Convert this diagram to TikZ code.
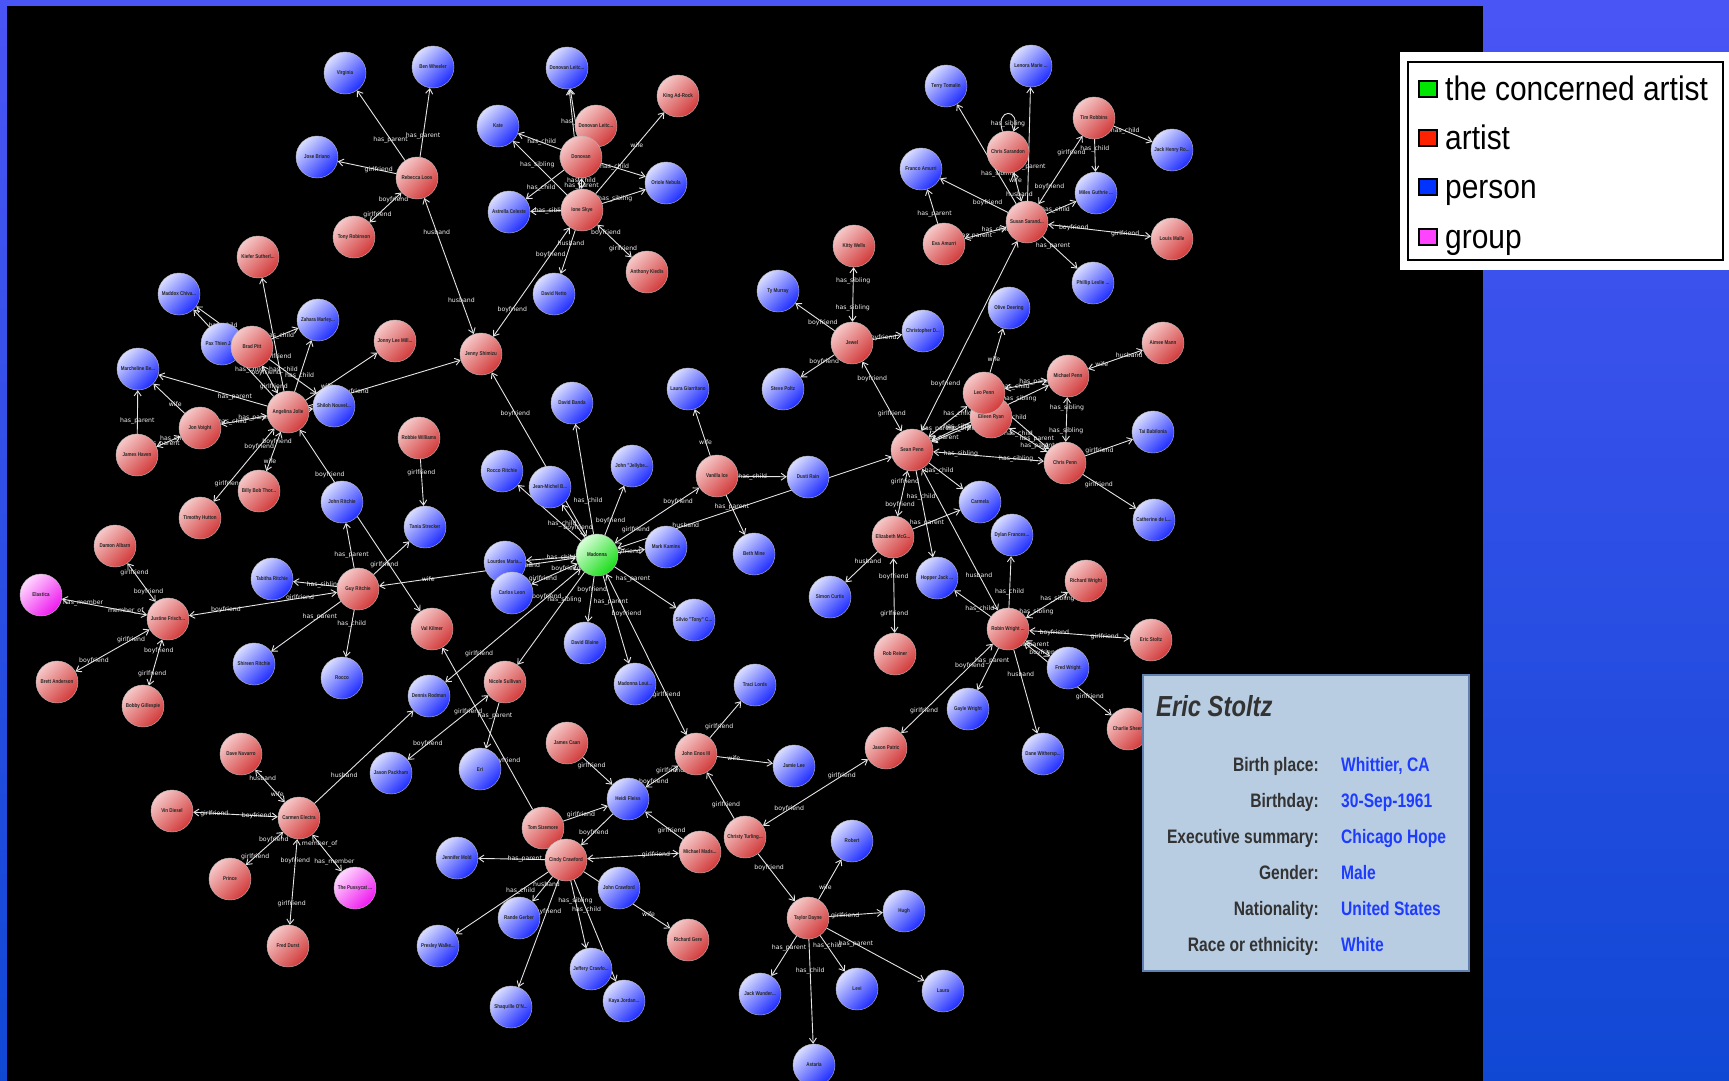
\documentclass[tikz,border=0pt]{standalone}
\usepackage{fontspec}
\setmainfont{Liberation Sans}
\newfontfamily\dejavu{DejaVu Sans}
\usepackage{graphicx}
\usetikzlibrary{arrows.meta}
\pgfdeclarelayer{bgl}
\pgfdeclarelayer{edl}
\pgfsetlayers{bgl,edl,main}
\definecolor{bgtop}{HTML}{4A55F5}
\definecolor{bgbot}{HTML}{1048D4}
\definecolor{rL}{HTML}{F6C8C8}\definecolor{rD}{HTML}{D23A3A}
\definecolor{bL}{HTML}{DADEFF}\definecolor{bD}{HTML}{1E2CFF}
\definecolor{gL}{HTML}{D8FFD8}\definecolor{gD}{HTML}{18DC18}
\definecolor{mL}{HTML}{FFD8FF}\definecolor{mD}{HTML}{EE18EE}
\definecolor{infofill}{HTML}{B8CCE2}
\definecolor{infoline}{HTML}{6080B0}
\definecolor{infoval}{HTML}{1E3CFF}
\definecolor{infolab}{HTML}{333333}
\definecolor{edgec}{HTML}{E4E4E4}
\tikzset{
  anode/.style={circle, minimum size=42pt, inner sep=0pt, draw=gray!55, line width=0.4pt,
    font=\fontsize{5.5}{6}\bfseries\selectfont, text=black!85},
  rn/.style={top color=rL, bottom color=rD, shading angle=45},
  bn/.style={top color=bL, bottom color=bD, shading angle=45},
  gn/.style={top color=gL, bottom color=gD, shading angle=45},
  mn/.style={top color=mL, bottom color=mD, shading angle=45},
  conn/.style={draw=edgec, line width=0.9pt, >={Straight Barb[length=5pt,width=7pt]}},
  elab/.style={font=\dejavu\fontsize{6.2}{7}\selectfont, text=white!88!gray, inner sep=0.5pt},
}
\newcommand\nl[1]{\scalebox{0.82}[1]{#1}}
\newcommand\gnode[5]{\node[anode,#4] (#1) at (#2,#3) {\nl{#5}};}
\newcommand\edA[3]{\draw[conn,->] (#1) -- node[elab,pos=0.3]{#3} (#2);}
\newcommand\edP[4]{\draw[conn,->] (#1) -- node[elab,pos=#4]{#3} (#2);}
\newcommand\edB[4]{\draw[conn,<->] (#1) -- node[elab,pos=0.25]{#3} node[elab,pos=0.75]{#4} (#2);}
\begin{document}
\begin{tikzpicture}[x=1pt,y=-1pt]
\useasboundingbox (0,0) rectangle (1729,1081);
\begin{pgfonlayer}{bgl}
\fill[top color=bgtop, bottom color=bgbot] (0,0) rectangle (1729,1081);
\fill[black] (7,6) rectangle (1483,1081);
\end{pgfonlayer}
% ---------- nodes ----------
\gnode{virg}{345}{73}{bn}{Virginia}
\gnode{benw}{433}{67}{bn}{Ben Wheeler}
\gnode{jose}{317}{157}{bn}{Jose Briano}
\gnode{rloos}{417}{178}{rn}{Rebecca Loos}
\gnode{tonyr}{354}{237}{rn}{Tony Robinson}
\gnode{kate}{498}{126}{bn}{Kate}
\gnode{astrella}{509}{212}{bn}{Astrella Celeste}
\gnode{kiefer}{258}{257}{rn}{Kiefer Sutherl...}
\gnode{maddox}{179}{294}{bn}{Maddox Chiva...}
\gnode{zahara}{318}{320}{bn}{Zahara Marley...}
\gnode{pax}{222}{344}{bn}{Pax Thien Jol...}
\gnode{brad}{252}{347}{rn}{Brad Pitt}
\gnode{jonny}{395}{341}{rn}{Jonny Lee Mill...}
\gnode{jenny}{481}{354}{rn}{Jenny Shimizu}
\gnode{dlb}{567}{68}{bn}{Donovan Leitc...}
\gnode{kingad}{678}{96}{rn}{King Ad-Rock}
\gnode{dlr}{596}{126}{rn}{Donovan Leitc...}
\gnode{donovan}{581}{157}{rn}{Donovan}
\gnode{ione}{582}{210}{rn}{Ione Skye}
\gnode{oriole}{666}{183}{bn}{Oriole Nebula}
\gnode{kiedis}{647}{272}{rn}{Anthony Kiedis}
\gnode{netto}{554}{294}{bn}{David Netto}
\gnode{tymurray}{778}{291}{bn}{Ty Murray}
\gnode{terry}{946}{86}{bn}{Terry Tomalin}
\gnode{lenora}{1031}{66}{bn}{Lenora Marie ...}
\gnode{timr}{1094}{118}{rn}{Tim Robbins}
\gnode{jackh}{1172}{150}{bn}{Jack Henry Ro...}
\gnode{chriss}{1008}{152}{rn}{Chris Sarandon}
\gnode{franco}{921}{169}{bn}{Franco Amurri}
\gnode{miles}{1096}{193}{bn}{Miles Guthrie ...}
\gnode{susan}{1027}{222}{rn}{Susan Sarand...}
\gnode{eva}{944}{244}{rn}{Eva Amurri}
\gnode{malle}{1172}{239}{rn}{Louis Malle}
\gnode{phillip}{1093}{283}{bn}{Phillip Leslie ...}
\gnode{kitty}{854}{246}{rn}{Kitty Wells}
\gnode{jewel}{852}{343}{rn}{Jewel}
\gnode{christd}{923}{331}{bn}{Christopher D...}
\gnode{olive}{1009}{308}{bn}{Olive Deering}
\gnode{aimee}{1163}{343}{rn}{Aimee Mann}
\gnode{marcheline}{138}{369}{bn}{Marcheline Be...}
\gnode{angelina}{288}{412}{rn}{Angelina Jolie}
\gnode{shiloh}{334}{406}{bn}{Shiloh Nouvel...}
\gnode{voight}{200}{428}{rn}{Jon Voight}
\gnode{haven}{137}{455}{rn}{James Haven}
\gnode{billybob}{259}{491}{rn}{Billy Bob Thor...}
\gnode{hutton}{200}{518}{rn}{Timothy Hutton}
\gnode{jritchie}{342}{502}{bn}{John Ritchie}
\gnode{damon}{115}{546}{rn}{Damon Albarn}
\gnode{robbie}{419}{438}{rn}{Robbie Williams}
\gnode{banda}{572}{403}{bn}{David Banda}
\gnode{lauragi}{688}{389}{bn}{Laura Giarritano}
\gnode{steve}{783}{389}{bn}{Steve Poltz}
\gnode{vanilla}{717}{476}{rn}{Vanilla Ice}
\gnode{dusti}{808}{477}{bn}{Dusti Rain}
\gnode{beth}{754}{554}{bn}{Beth Mine}
\gnode{tania}{425}{527}{bn}{Tania Strecker}
\gnode{rocco1}{502}{471}{bn}{Rocco Ritchie}
\gnode{jmb}{550}{487}{bn}{Jean-Michel B...}
\gnode{jelly}{632}{466}{bn}{John "Jellybe...}
\gnode{kamins}{666}{547}{bn}{Mark Kamins}
\gnode{lourdes}{505}{562}{bn}{Lourdes Maria...}
\gnode{carlos}{512}{593}{bn}{Carlos Leon}
\gnode{madonna}{597}{555}{gn}{Madonna}
\gnode{valk}{432}{629}{rn}{Val Kilmer}
\gnode{blaine}{585}{643}{bn}{David Blaine}
\gnode{silvio}{694}{620}{bn}{Silvio "Tony" C...}
\gnode{nicole}{505}{682}{rn}{Nicole Sullivan}
\gnode{rodman}{429}{696}{bn}{Dennis Rodman}
\gnode{mlouise}{635}{684}{bn}{Madonna Loui...}
\gnode{traci}{755}{685}{bn}{Traci Lords}
\gnode{mpenn}{1068}{376}{rn}{Michael Penn}
\gnode{eileen}{991}{417}{rn}{Eileen Ryan}
\gnode{leo}{984}{393}{rn}{Leo Penn}
\gnode{sean}{912}{450}{rn}{Sean Penn}
\gnode{chrisp}{1065}{463}{rn}{Chris Penn}
\gnode{tai}{1153}{432}{bn}{Tai Babilonia}
\gnode{cath}{1154}{520}{bn}{Catherine de L...}
\gnode{elizm}{893}{537}{rn}{Elizabeth McG...}
\gnode{carmela}{980}{502}{bn}{Carmela}
\gnode{dylan}{1012}{535}{bn}{Dylan Frances...}
\gnode{hopper}{937}{578}{bn}{Hopper Jack ...}
\gnode{simon}{830}{597}{bn}{Simon Curtis}
\gnode{rwright}{1086}{581}{rn}{Richard Wright}
\gnode{robin}{1008}{629}{rn}{Robin Wright ...}
\gnode{stoltz}{1151}{640}{rn}{Eric Stoltz}
\gnode{reiner}{895}{654}{rn}{Rob Reiner}
\gnode{fredw}{1068}{668}{bn}{Fred Wright}
\gnode{elastica}{41}{595}{mn}{Elastica}
\gnode{justine}{168}{619}{rn}{Justine Frisch...}
\gnode{tabitha}{272}{579}{bn}{Tabitha Ritchie}
\gnode{guy}{358}{589}{rn}{Guy Ritchie}
\gnode{brett}{57}{682}{rn}{Brett Anderson}
\gnode{bobby}{143}{706}{rn}{Bobby Gillespie}
\gnode{shireen}{254}{664}{bn}{Shireen Ritchie}
\gnode{rocco}{342}{678}{bn}{Rocco}
\gnode{navarro}{241}{754}{rn}{Dave Navarro}
\gnode{packham}{391}{773}{bn}{Jason Packham}
\gnode{vin}{172}{811}{rn}{Vin Diesel}
\gnode{carmen}{299}{818}{rn}{Carmen Electra}
\gnode{prince}{230}{879}{rn}{Prince}
\gnode{pussy}{355}{888}{mn}{The Pussycat ...}
\gnode{durst}{288}{946}{rn}{Fred Durst}
\gnode{eri}{480}{769}{bn}{Eri}
\gnode{caan}{567}{743}{rn}{James Caan}
\gnode{enos}{696}{754}{rn}{John Enos III}
\gnode{jamie}{794}{766}{bn}{Jamie Lee}
\gnode{heidi}{628}{799}{bn}{Heidi Fleiss}
\gnode{sizemore}{543}{828}{rn}{Tom Sizemore}
\gnode{cindy}{566}{860}{rn}{Cindy Crawford}
\gnode{jennifer}{457}{858}{bn}{Jennifer Mold}
\gnode{madsen}{700}{852}{rn}{Michael Mads...}
\gnode{christy}{745}{837}{rn}{Christy Turling...}
\gnode{jcrawford}{619}{888}{bn}{John Crawford}
\gnode{rande}{519}{918}{bn}{Rande Gerber}
\gnode{presley}{438}{946}{bn}{Presley Walke...}
\gnode{gere}{688}{940}{rn}{Richard Gere}
\gnode{jeffery}{591}{969}{bn}{Jeffery Crawfo...}
\gnode{kaya}{624}{1001}{bn}{Kaya Jordan...}
\gnode{shaq}{511}{1007}{bn}{Shaquille O'N...}
\gnode{taylor}{808}{918}{rn}{Taylor Dayne}
\gnode{jackw}{760}{994}{bn}{Jack Wunder...}
\gnode{astaria}{814}{1065}{bn}{Astaria}
\gnode{robert}{852}{841}{bn}{Robert}
\gnode{hugh}{904}{911}{bn}{Hugh}
\gnode{levi}{857}{989}{bn}{Levi}
\gnode{laura}{943}{991}{bn}{Laura}
\gnode{gayle}{968}{709}{bn}{Gayle Wright}
\gnode{charlie}{1128}{729}{rn}{Charlie Sheen}
\gnode{patric}{886}{748}{rn}{Jason Patric}
\gnode{dane}{1043}{754}{bn}{Dane Withersp...}
% ---------- connectors ----------
\begin{pgfonlayer}{edl}
\edA{rloos}{virg}{has\_parent}
\edA{rloos}{benw}{has\_parent}
\edA{rloos}{jose}{girlfriend}
\edB{tonyr}{rloos}{girlfriend}{boyfriend}
\edB{rloos}{jenny}{husband}{husband}
\edP{donovan}{kate}{has\_child}{0.45}
\edP{ione}{kate}{has\_sibling}{0.55}
\edA{donovan}{dlb}{has\_child}
\edA{ione}{dlb}{has\_sibling}
\edB{donovan}{dlr}{has\_child}{has\_parent}
\edP{donovan}{astrella}{has\_child}{0.6}
\edA{donovan}{oriole}{has\_child}
\edB{ione}{donovan}{has\_parent}{has\_child}
\edA{ione}{astrella}{has\_sibling}
\edA{ione}{oriole}{has\_sibling}
\edP{ione}{kingad}{wife}{0.6}
\edB{ione}{kiedis}{boyfriend}{girlfriend}
\edA{ione}{netto}{husband}
\edB{jenny}{ione}{boyfriend}{boyfriend}
\edA{brad}{maddox}{has\_child}
\edA{brad}{zahara}{has\_child}
\edA{angelina}{kiefer}{girlfriend}
\edA{angelina}{maddox}{has\_child}
\edA{angelina}{zahara}{has\_child}
\edA{angelina}{shiloh}{has\_child}
\edA{brad}{shiloh}{has\_child}
\edB{brad}{angelina}{boyfriend}{girlfriend}
\edA{angelina}{marcheline}{has\_parent}
\edA{voight}{marcheline}{wife}
\edA{haven}{marcheline}{has\_parent}
\edB{haven}{voight}{has\_parent}{has\_child}
\edB{angelina}{voight}{has\_parent}{has\_child}
\edA{angelina}{jonny}{wife}
\edA{angelina}{jenny}{boyfriend}
\edB{billybob}{angelina}{wife}{boyfriend}
\edB{angelina}{hutton}{boyfriend}{girlfriend}
\edB{angelina}{valk}{boyfriend}{}
\edA{guy}{jritchie}{has\_parent}
\edA{guy}{tabitha}{has\_sibling}
\edB{guy}{justine}{girlfriend}{boyfriend}
\edA{guy}{shireen}{has\_parent}
\edA{guy}{rocco}{has\_child}
\edA{guy}{tania}{girlfriend}
\edA{robbie}{tania}{girlfriend}
\edB{guy}{madonna}{wife}{husband}
\edA{madonna}{lourdes}{has\_child}
\edA{madonna}{rocco1}{has\_child}
\edA{madonna}{banda}{has\_child}
\edA{madonna}{jmb}{boyfriend}
\edB{jenny}{madonna}{boyfriend}{}
\edA{madonna}{jelly}{boyfriend}
\edB{madonna}{vanilla}{girlfriend}{boyfriend}
\edA{vanilla}{lauragi}{wife}
\edA{vanilla}{dusti}{has\_child}
\edA{vanilla}{beth}{has\_parent}
\edB{madonna}{sean}{husband}{wife}
\edA{madonna}{kamins}{boyfriend}
\edA{madonna}{silvio}{has\_parent}
\edA{madonna}{blaine}{boyfriend}
\edA{madonna}{mlouise}{has\_parent}
\edB{madonna}{enos}{boyfriend}{girlfriend}
\edB{madonna}{carlos}{boyfriend}{girlfriend}
\edA{madonna}{nicole}{has\_sibling}
\edB{madonna}{rodman}{boyfriend}{girlfriend}
\edA{nicole}{eri}{has\_parent}
\edB{nicole}{packham}{girlfriend}{boyfriend}
\edA{carmen}{rodman}{husband}
\edA{sizemore}{valk}{boyfriend}
\edB{justine}{elastica}{member\_of}{has\_member}
\edB{damon}{justine}{girlfriend}{boyfriend}
\edB{justine}{brett}{girlfriend}{boyfriend}
\edB{justine}{bobby}{boyfriend}{girlfriend}
\edB{carmen}{navarro}{wife}{husband}
\edB{carmen}{vin}{boyfriend}{girlfriend}
\edB{carmen}{prince}{boyfriend}{girlfriend}
\edB{carmen}{durst}{boyfriend}{girlfriend}
\edB{carmen}{pussy}{member\_of}{has\_member}
\edB{jewel}{kitty}{has\_sibling}{has\_sibling}
\edA{jewel}{tymurray}{boyfriend}
\edA{jewel}{christd}{boyfriend}
\edA{jewel}{steve}{boyfriend}
\edB{jewel}{sean}{boyfriend}{girlfriend}
\edA{susan}{terry}{has\_sibling}
\draw[conn,->] (chriss.105) .. controls +(-8,-24) and +(8,-24) .. (chriss.75);
\node[elab] (loopl) at (1008,124) {has\_sibling};
\edA{susan}{lenora}{has\_parent}
\edB{susan}{chriss}{husband}{wife}
\edA{susan}{franco}{boyfriend}
\edA{eva}{franco}{has\_parent}
\edB{susan}{eva}{has\_child}{has\_parent}
\edB{susan}{timr}{boyfriend}{girlfriend}
\edA{timr}{jackh}{has\_child}
\edA{timr}{miles}{has\_child}
\edA{susan}{miles}{has\_child}
\edB{susan}{malle}{boyfriend}{girlfriend}
\edA{susan}{phillip}{has\_parent}
\edB{sean}{susan}{boyfriend}{}
\edA{leo}{olive}{wife}
\edB{mpenn}{aimee}{wife}{husband}
\edB{sean}{leo}{has\_parent}{has\_child}
\edB{sean}{eileen}{has\_parent}{has\_child}
\edB{sean}{mpenn}{has\_sibling}{has\_sibling}
\edB{sean}{chrisp}{has\_sibling}{has\_sibling}
\edB{chrisp}{mpenn}{has\_sibling}{has\_sibling}
\edB{leo}{mpenn}{has\_child}{has\_parent}
\edB{leo}{chrisp}{has\_child}{has\_parent}
\edB{eileen}{chrisp}{has\_child}{has\_parent}
\edA{chrisp}{tai}{girlfriend}
\edA{chrisp}{cath}{girlfriend}
\edB{sean}{elizm}{girlfriend}{boyfriend}
\edA{sean}{hopper}{has\_child}
\edA{sean}{carmela}{has\_child}
\edA{elizm}{carmela}{has\_parent}
\edB{elizm}{reiner}{boyfriend}{girlfriend}
\edA{elizm}{simon}{husband}
\edB{robin}{sean}{husband}{}
\edA{robin}{dylan}{has\_child}
\edA{robin}{hopper}{has\_child}
\edB{robin}{rwright}{has\_sibling}{has\_sibling}
\edB{robin}{stoltz}{boyfriend}{girlfriend}
\edB{robin}{fredw}{has\_parent}{boyfriend}
\edB{robin}{charlie}{}{girlfriend}
\edA{robin}{gayle}{has\_parent}
\edA{robin}{dane}{husband}
\edB{robin}{patric}{boyfriend}{girlfriend}
\edB{patric}{christy}{girlfriend}{boyfriend}
\edA{enos}{jamie}{wife}
\edA{enos}{traci}{girlfriend}
\edB{enos}{heidi}{girlfriend}{boyfriend}
\edA{caan}{heidi}{girlfriend}
\edA{christy}{enos}{girlfriend}
\edP{sizemore}{heidi}{girlfriend}{0.4}
\edP{heidi}{cindy}{boyfriend}{0.6}
\edA{madsen}{heidi}{girlfriend}
\edB{madsen}{cindy}{girlfriend}{}
\edA{cindy}{jennifer}{has\_parent}
\edA{cindy}{presley}{has\_child}
\edA{cindy}{rande}{husband}
\edA{cindy}{jeffery}{has\_sibling}
\edA{cindy}{kaya}{has\_child}
\edA{cindy}{shaq}{boyfriend}
\edP{cindy}{gere}{wife}{0.75}
\edA{christy}{taylor}{boyfriend}
\edA{taylor}{robert}{wife}
\edA{taylor}{hugh}{girlfriend}
\edA{taylor}{jackw}{has\_parent}
\edA{taylor}{levi}{has\_child}
\edA{taylor}{astaria}{has\_child}
\edA{taylor}{laura}{has\_parent}
\end{pgfonlayer}
% ---------- legend ----------
\fill[white] (1400,52) rectangle (1729,270);
\draw[black, line width=2pt] (1408,62) rectangle (1723,260);
\tikzset{sw/.style={draw=black, line width=1.2pt}, legt/.style={anchor=base west, inner sep=0pt, font=\fontsize{34}{40}\selectfont, text=black}}
\filldraw[sw, fill={rgb,255:red,0;green,230;blue,0}] (1419,81) rectangle (1437,97);
\filldraw[sw, fill={rgb,255:red,255;green,34;blue,0}] (1419,130) rectangle (1437,146);
\filldraw[sw, fill={rgb,255:red,0;green,51;blue,255}] (1419,179) rectangle (1437,195);
\filldraw[sw, fill={rgb,255:red,255;green,68;blue,255}] (1419,229) rectangle (1437,245);
\node[legt] (lg1) at (1445,100) {\scalebox{0.88}[1]{the concerned artist}};
\node[legt] (lg2) at (1445,149) {\scalebox{0.88}[1]{artist}};
\node[legt] (lg3) at (1445,198) {\scalebox{0.88}[1]{person}};
\node[legt] (lg4) at (1445,248) {\scalebox{0.88}[1]{group}};
% ---------- info box ----------
\filldraw[fill=infofill, draw=infoline, line width=1.5pt] (1143,675) rectangle (1469,971);
\node[anchor=base west, inner sep=0pt, font=\fontsize{29}{32}\bfseries\itshape\selectfont, text=infolab] (ttl) at (1156,716) {\scalebox{0.82}[1]{Eric Stoltz}};
\tikzset{ilab/.style={anchor=base east, inner sep=0pt, font=\fontsize{19.5}{22}\bfseries\selectfont, text=infolab},
         ival/.style={anchor=base west, inner sep=0pt, font=\fontsize{19.5}{22}\bfseries\selectfont, text=infoval}}
\node[ilab] (l1) at (1319,771) {\scalebox{0.8}[1]{Birth place:}};
\node[ival] (v1) at (1341,771) {\scalebox{0.8}[1]{Whittier, CA}};
\node[ilab] (l2) at (1319,807) {\scalebox{0.8}[1]{Birthday:}};
\node[ival] (v2) at (1341,807) {\scalebox{0.8}[1]{30-Sep-1961}};
\node[ilab] (l3) at (1319,843) {\scalebox{0.8}[1]{Executive summary:}};
\node[ival] (v3) at (1341,843) {\scalebox{0.8}[1]{Chicago Hope}};
\node[ilab] (l4) at (1319,879) {\scalebox{0.8}[1]{Gender:}};
\node[ival] (v4) at (1341,879) {\scalebox{0.8}[1]{Male}};
\node[ilab] (l5) at (1319,915) {\scalebox{0.8}[1]{Nationality:}};
\node[ival] (v5) at (1341,915) {\scalebox{0.8}[1]{United States}};
\node[ilab] (l6) at (1319,951) {\scalebox{0.8}[1]{Race or ethnicity:}};
\node[ival] (v6) at (1341,951) {\scalebox{0.8}[1]{White}};
\end{tikzpicture}
\end{document}
